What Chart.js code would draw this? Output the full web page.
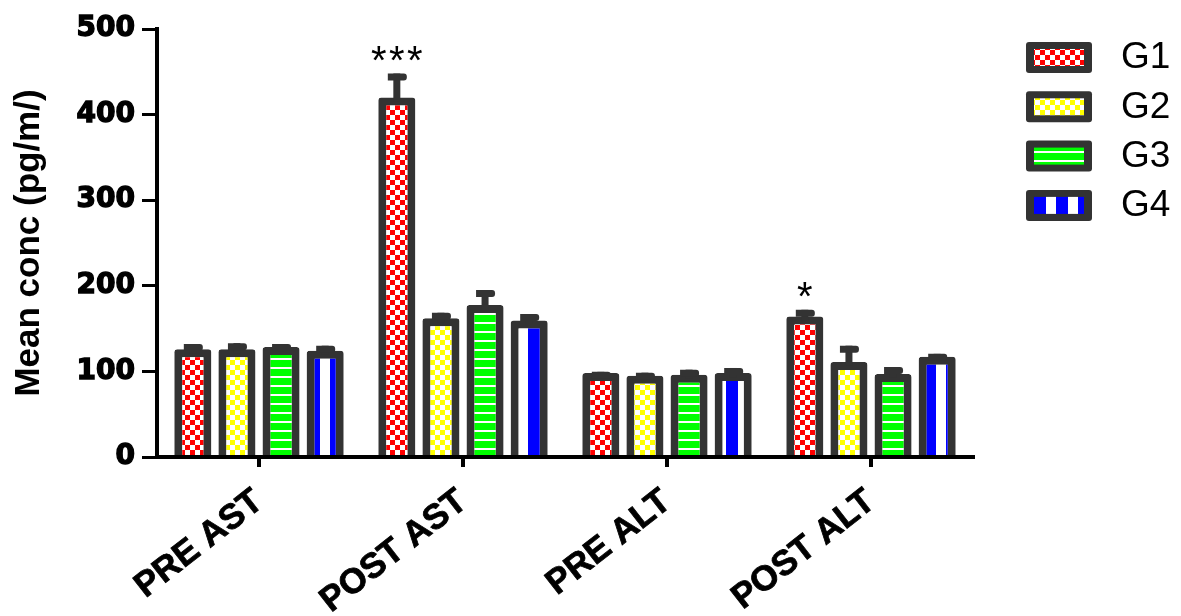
<!DOCTYPE html>
<html>
<head>
<meta charset="utf-8">
<script src="https://cdn.jsdelivr.net/npm/chart.js@4.4.1/dist/chart.umd.min.js"></script>
<style>
  html, body { margin: 0; padding: 0; background: #fff; }
  #wrap { width: 1181px; height: 616px; position: relative; }
</style>
</head>
<body>
<div id="wrap"><canvas id="chart"></canvas></div>
<script>
// values
const categories = ['PRE AST', 'POST AST', 'PRE ALT', 'POST ALT'];
const groupNames = ['G1', 'G2', 'G3', 'G4'];
const g1Values = [126, 420, 98, 164];
const g2Values = [126, 162, 95, 111];
const g3Values = [128.5, 177.5, 96, 97];
const g4Values = [124, 159.5, 98, 117];
const g1Errors = [6, 28, 1.5, 8];
const g2Errors = [7, 6.5, 3.5, 19];
const g3Errors = [3.5, 17.5, 6, 8];
const g4Errors = [6, 7.5, 6, 3.5];
const g1Stars = ['', '***', '', '*'];
const yTicks = [0, 100, 200, 300, 400, 500];

const DARK = '#333333';

const canvas = document.getElementById('chart');
const mainCtx = canvas.getContext('2d');

// fill patterns like the GraphPad ones
function checkPattern(color, cell) {
  const c = document.createElement('canvas');
  c.width = cell * 2; c.height = cell * 2;
  const x = c.getContext('2d');
  x.fillStyle = '#ffffff';
  x.fillRect(0, 0, c.width, c.height);
  x.fillStyle = color;
  x.fillRect(0, 0, cell, cell);
  x.fillRect(cell, cell, cell, cell);
  return mainCtx.createPattern(c, 'repeat');
}
function hLinePattern(color, period, line) {
  const c = document.createElement('canvas');
  c.width = 4; c.height = period;
  const x = c.getContext('2d');
  x.fillStyle = color;
  x.fillRect(0, 0, 4, period);
  x.fillStyle = '#ffffff';
  x.fillRect(0, period - line, 4, line);
  return mainCtx.createPattern(c, 'repeat');
}
function vStripePattern(color, colorW, whiteW) {
  const c = document.createElement('canvas');
  c.width = colorW + whiteW; c.height = 4;
  const x = c.getContext('2d');
  x.fillStyle = color;
  x.fillRect(0, 0, colorW, 4);
  x.fillStyle = '#ffffff';
  x.fillRect(colorW, 0, whiteW, 4);
  return mainCtx.createPattern(c, 'repeat');
}

const fills = [
  checkPattern('#ff0000', 5),
  checkPattern('#ffff00', 5),
  hLinePattern('#00ff00', 9, 2),
  vStripePattern('#0000ff', 12, 10)
];

// upward error bars and significance stars
const errorBars = {
  id: 'errorBars',
  afterDatasetsDraw(chart) {
    const ctx = chart.ctx;
    const y = chart.scales.y;
    ctx.save();
    ctx.fillStyle = DARK;
    chart.data.datasets.forEach((ds, di) => {
      const meta = chart.getDatasetMeta(di);
      meta.data.forEach((bar, i) => {
        const top = y.getPixelForValue(ds.data[i] + ds.errors[i]);
        ctx.fillRect(bar.x - 3.5, top, 7, bar.y - top + 4);
        ctx.beginPath();
        ctx.roundRect(bar.x - 9, top, 19, 7, [0, 3, 3, 0]);
        ctx.fill();
      });
    });
    const meta0 = chart.getDatasetMeta(0);
    ctx.fillStyle = '#000';
    ctx.font = '40px "Liberation Sans"';
    ctx.textAlign = 'center';
    ctx.textBaseline = 'alphabetic';
    g1Stars.forEach((s, i) => {
      if (!s) return;
      const bar = meta0.data[i];
      const top = y.getPixelForValue(g1Values[i] + g1Errors[i]);
      const n = s.length;
      for (let k = 0; k < n; k++) {
        ctx.fillText('*', bar.x + (k - (n - 1) / 2) * 18, top);
      }
    });
    ctx.restore();
  }
};

// legend on the right
const sideLegend = {
  id: 'sideLegend',
  afterDraw(chart) {
    const ctx = chart.ctx;
    ctx.save();
    chart.data.datasets.forEach((ds, i) => {
      const bx = 1026, by = 42 + i * 49.3;
      ctx.fillStyle = DARK;
      ctx.beginPath();
      ctx.roundRect(bx, by, 66, 31, 3);
      ctx.fill();
      ctx.fillStyle = ds.backgroundColor;
      ctx.fillRect(bx + 8, by + 7, 50, 17);
      ctx.fillStyle = '#000';
      ctx.font = '37px "Liberation Sans"';
      ctx.textAlign = 'left';
      ctx.textBaseline = 'middle';
      ctx.fillText(ds.label, 1121, by + 16);
    });
    ctx.restore();
  }
};

const valueSets = [g1Values, g2Values, g3Values, g4Values];
const errorSets = [g1Errors, g2Errors, g3Errors, g4Errors];

new Chart(canvas, {
  type: 'bar',
  data: {
    labels: categories,
    datasets: groupNames.map((name, i) => ({
      label: name,
      data: valueSets[i],
      errors: errorSets[i],
      backgroundColor: fills[i],
      borderColor: DARK,
      borderWidth: 8,
      borderRadius: 3,
      borderSkipped: 'start',
      categoryPercentage: 0.865,
      barPercentage: 0.84
    }))
  },
  options: {
    responsive: true,
    maintainAspectRatio: false,
    animation: false,
    layout: { padding: { left: 0, right: 208, top: 29, bottom: 0 } },
    plugins: {
      legend: { display: false },
      tooltip: { enabled: false }
    },
    scales: {
      y: {
        min: 0,
        max: 500,
        afterFit(s) { s.width = 157; },
        afterBuildTicks(s) { s.ticks = yTicks.map(v => ({ value: v })); },
        ticks: {
          color: '#000',
          padding: 7,
          textStrokeColor: '#000',
          textStrokeWidth: 1.4,
          font: { family: 'DejaVu Sans', weight: 'bold', size: 28 }
        },
        grid: { drawOnChartArea: false, tickLength: 15, color: '#000', lineWidth: 3 },
        border: { color: '#000', width: 4 },
        title: {
          display: true,
          text: 'Mean conc (pg/m/)',
          color: '#000',
          font: { family: 'Liberation Sans', weight: 'bold', size: 35 },
          padding: { top: 8, bottom: 0 }
        }
      },
      x: {
        afterFit(s) { s.height = 159; },
        ticks: {
          color: '#000',
          autoSkip: false,
          minRotation: 38,
          maxRotation: 38,
          padding: 14,
          textStrokeColor: '#000',
          textStrokeWidth: 0.8,
          font: { family: 'Liberation Sans', weight: 'bold', size: 35 }
        },
        grid: { offset: false, drawOnChartArea: false, tickLength: 10, color: '#000', lineWidth: 4 },
        border: { color: '#000', width: 4, z: 1 }
      }
    }
  },
  plugins: [errorBars, sideLegend]
});
</script>
</body>
</html>
